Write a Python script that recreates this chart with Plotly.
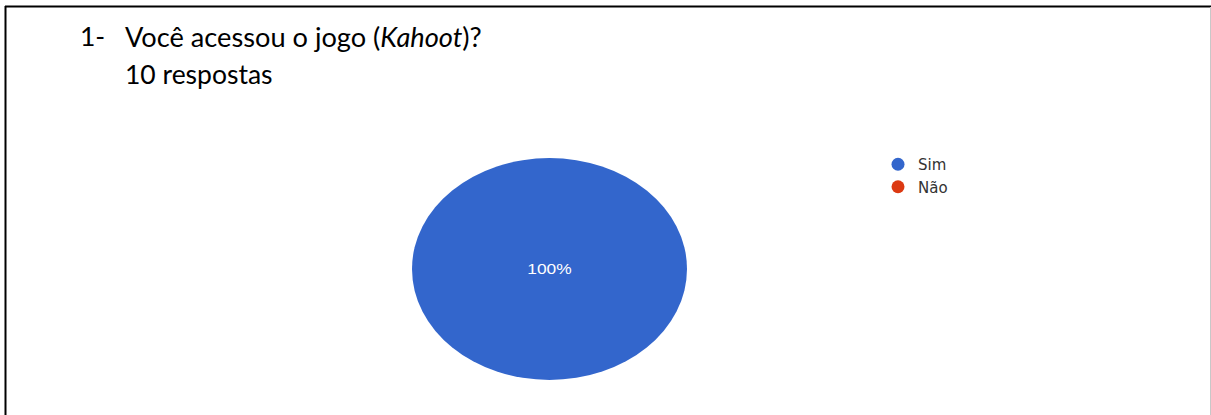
import plotly.graph_objects as go

# ---- data ----
labels = ["Sim", "Não"]
values = [10, 0]
colors = ["#3366CC", "#DC3912"]
question_number = "1-"
question_text = "Você acessou o jogo (<i>Kahoot</i>)?"
responses_text = "10 respostas"

W, H = 1211, 415

def px(x):
    return x / W

def py(y):
    return 1 - y / H

fig = go.Figure()

fig.add_trace(go.Pie(
    labels=labels,
    values=values,
    marker=dict(colors=colors, line=dict(width=0)),
    sort=False,
    direction="clockwise",
    texttemplate="%{percent:.0%}",
    textposition="inside",
    insidetextorientation="horizontal",
    textfont=dict(family="Liberation Sans, Arial", size=14, color="white"),
    showlegend=False,
    hoverinfo="label+percent",
    domain=dict(x=[px(438.5), px(660.5)], y=[py(380), py(158)]),
))

for lab, col in zip(labels, colors):
    fig.add_trace(go.Scatter(
        x=[None], y=[None], mode="markers", name=lab,
        marker=dict(symbol="circle", size=13, color=col),
        showlegend=True,
    ))

fig.update_layout(
    width=W, height=H,
    margin=dict(l=0, r=0, t=0, b=0),
    paper_bgcolor="white",
    plot_bgcolor="white",
    xaxis=dict(visible=False, range=[0, 1]),
    yaxis=dict(visible=False, range=[0, 1]),
    legend=dict(
        x=px(878), y=py(148), xanchor="left", yanchor="top",
        font=dict(family="DejaVu Sans, Arial", size=15, color="#333333"),
        itemsizing="trace",
        bgcolor="rgba(0,0,0,0)",
    ),
    showlegend=True,
)

title_font = dict(family="Lato, Carlito, Calibri, sans-serif", size=26.5, color="black")
title_font_1 = dict(family="Lato, Carlito, Calibri, sans-serif", size=27.2, color="black")
fig.add_annotation(text=question_number, x=px(78), y=py(36.5), xref="paper", yref="paper",
                   xanchor="left", yanchor="middle", showarrow=False, font=title_font)
fig.add_annotation(text=question_text, x=px(123), y=py(36.5), xref="paper", yref="paper",
                   xanchor="left", yanchor="middle", showarrow=False, font=title_font_1)
fig.add_annotation(text=responses_text, x=px(123), y=py(73.5), xref="paper", yref="paper",
                   xanchor="left", yanchor="middle", showarrow=False, font=title_font)

# frame lines
fig.add_shape(type="line", xref="paper", yref="paper", x0=px(5.5), x1=px(5.5), y0=py(6), y1=0,
              line=dict(color="black", width=2))
fig.add_shape(type="line", xref="paper", yref="paper", x0=px(5), x1=1, y0=py(6.5), y1=py(6.5),
              line=dict(color="black", width=2))
fig.add_shape(type="line", xref="paper", yref="paper", x0=px(1210.5), x1=px(1210.5), y0=py(7), y1=0,
              line=dict(color="#c8c8c8", width=1))

post = """
document.body.style.margin = '0';
document.body.style.padding = '0';
var gd = document.getElementById('{plot_id}');
function stretchPie(){
  var layer = gd.querySelector('.pielayer');
  if(!layer) return;
  var cx = 549.5, s = 137.5/111;
  layer.setAttribute('transform', 'translate(' + cx + ',0) scale(' + s + ',1) translate(' + (-cx) + ',0)');
}
stretchPie();
gd.on('plotly_afterplot', stretchPie);
"""

fig.write_html("out.html", post_script=post, config={"displayModeBar": False})
